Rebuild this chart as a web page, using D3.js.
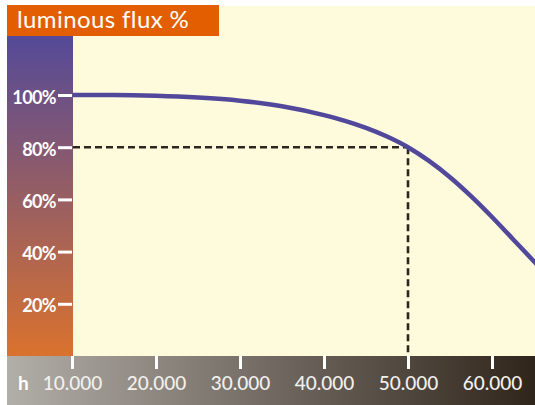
<!DOCTYPE html>
<html>
<head>
<meta charset="utf-8">
<script src="https://cdn.jsdelivr.net/npm/d3@7"></script>
<style>
  body { margin: 0; background: #fff; }
  svg { display: block; }
  text { font-family: Lato, "Open Sans", sans-serif; }
</style>
</head>
<body>
<div id="chart"></div>
<script>
const WIDTH = 535
const HEIGHT = 405

// data
const hours = [0, 10000, 15000, 20000, 25000, 30000, 35000, 40000, 42500, 45000, 47500, 50000, 52500, 55000, 57500, 60000, 62500, 65000, 66000]
const flux = [100, 100, 100, 99.7, 99, 97.8, 95.7, 92.3, 90.1, 87.4, 84.1, 80, 74.75, 68.5, 61.25, 53.25, 44.75, 36.25, 32.8]
const yTicks = [20, 40, 60, 80, 100]
const xTicks = [10000, 20000, 30000, 40000, 50000, 60000]
const marker = {h: 50000, pct: 80}

const title = 'luminous flux %'
const xUnit = 'h'

const plot = {left: 73, right: WIDTH, top: 6, bottom: 356}

let svg = d3.select('#chart')
    .append('svg')
    .attr('width', WIDTH)
    .attr('height', HEIGHT)

let defs = svg.append('defs')
let gLeft = defs.append('linearGradient').attr('id', 'leftGrad')
    .attr('x1', 0).attr('y1', 0).attr('x2', 0).attr('y2', 1)
gLeft.append('stop').attr('offset', '0%').attr('stop-color', '#544a98')
gLeft.append('stop').attr('offset', '100%').attr('stop-color', '#da722e')

let gBottom = defs.append('linearGradient').attr('id', 'bottomGrad')
    .attr('x1', 0).attr('y1', 0).attr('x2', 1).attr('y2', 0)
gBottom.append('stop').attr('offset', '0%').attr('stop-color', '#b2aea8')
gBottom.append('stop').attr('offset', '100%').attr('stop-color', '#30251b')

defs.append('clipPath').attr('id', 'plotClip')
    .append('rect')
    .attr('x', plot.left).attr('y', plot.top)
    .attr('width', plot.right - plot.left).attr('height', plot.bottom - plot.top)

// scales
let xScale = d3.scaleLinear().domain([10000, 60000]).range([72, 492])
let yScale = d3.scaleLinear().domain([0, 100]).range([plot.bottom, 95])

// backgrounds
svg.append('rect')
    .attr('x', plot.left).attr('y', plot.top)
    .attr('width', plot.right - plot.left).attr('height', plot.bottom - plot.top)
    .attr('fill', '#fefbdc')

svg.append('rect')
    .attr('x', 7).attr('y', 36)
    .attr('width', plot.left - 7).attr('height', plot.bottom - 36)
    .attr('fill', 'url(#leftGrad)')

svg.append('rect')
    .attr('x', 7).attr('y', plot.bottom)
    .attr('width', WIDTH - 7).attr('height', HEIGHT - plot.bottom)
    .attr('fill', 'url(#bottomGrad)')

svg.append('rect')
    .attr('x', 7).attr('y', 5)
    .attr('width', 212).attr('height', 31)
    .attr('fill', '#e35e00')

svg.append('text')
    .text(title)
    .attr('x', 17)
    .attr('y', 28)
    .attr('fill', '#fff')
    .style('font-size', '24px')
    .style('font-weight', 400)
    .style('letter-spacing', '0.4px')

// dashed guide lines for 80% at 50.000 h
let guide = svg.append('g')
    .attr('stroke', '#2b261f')
    .attr('stroke-width', 2.6)
    .attr('stroke-dasharray', '7,4')
guide.append('line')
    .attr('x1', plot.left).attr('x2', xScale(marker.h))
    .attr('y1', yScale(marker.pct)).attr('y2', yScale(marker.pct))
guide.append('line')
    .attr('x1', xScale(marker.h)).attr('x2', xScale(marker.h))
    .attr('y1', yScale(marker.pct)).attr('y2', plot.bottom)

// the curve
let line = d3.line()
    .x((d, i) => xScale(hours[i]))
    .y(d => yScale(d))
    .curve(d3.curveMonotoneX)

svg.append('path')
    .datum(flux)
    .attr('clip-path', 'url(#plotClip)')
    .attr('d', line)
    .attr('fill', 'none')
    .attr('stroke', '#51489b')
    .attr('stroke-width', 4.5)

// y axis
let yAxis = svg.append('g')
    .attr('transform', 'translate(' + 72 + ',0)')
    .call(d3.axisLeft(yScale)
        .tickValues(yTicks)
        .tickSize(14)
        .tickPadding(2)
        .tickFormat(d => d + '%'))
yAxis.select('.domain').remove()
yAxis.selectAll('.tick line').attr('stroke', '#fff').attr('stroke-width', 3)
yAxis.selectAll('.tick text')
    .attr('fill', '#fff')
    .attr('dy', null)
    .attr('y', 8)
    .style('font-size', '18px')
    .style('font-weight', 'bold')
    .style('letter-spacing', '-0.6px')

// x axis
let xAxis = svg.append('g')
    .attr('transform', 'translate(0,' + plot.bottom + ')')
    .call(d3.axisBottom(xScale)
        .tickValues(xTicks)
        .tickSize(13)
        .tickFormat(d => d3.format(',')(d).replace(',', '.')))
xAxis.select('.domain').remove()
xAxis.selectAll('.tick line').attr('stroke', '#fff').attr('stroke-width', 3)
xAxis.selectAll('.tick text')
    .attr('fill', '#f2f0ec')
    .attr('dy', null)
    .attr('y', 34)
    .style('font-size', '19px')
    .style('font-weight', 500)

svg.append('text')
    .text(xUnit)
    .attr('x', 18)
    .attr('y', 390)
    .attr('fill', '#fff')
    .style('font-size', '19px')
    .style('font-weight', 'bold')
</script>
</body>
</html>
